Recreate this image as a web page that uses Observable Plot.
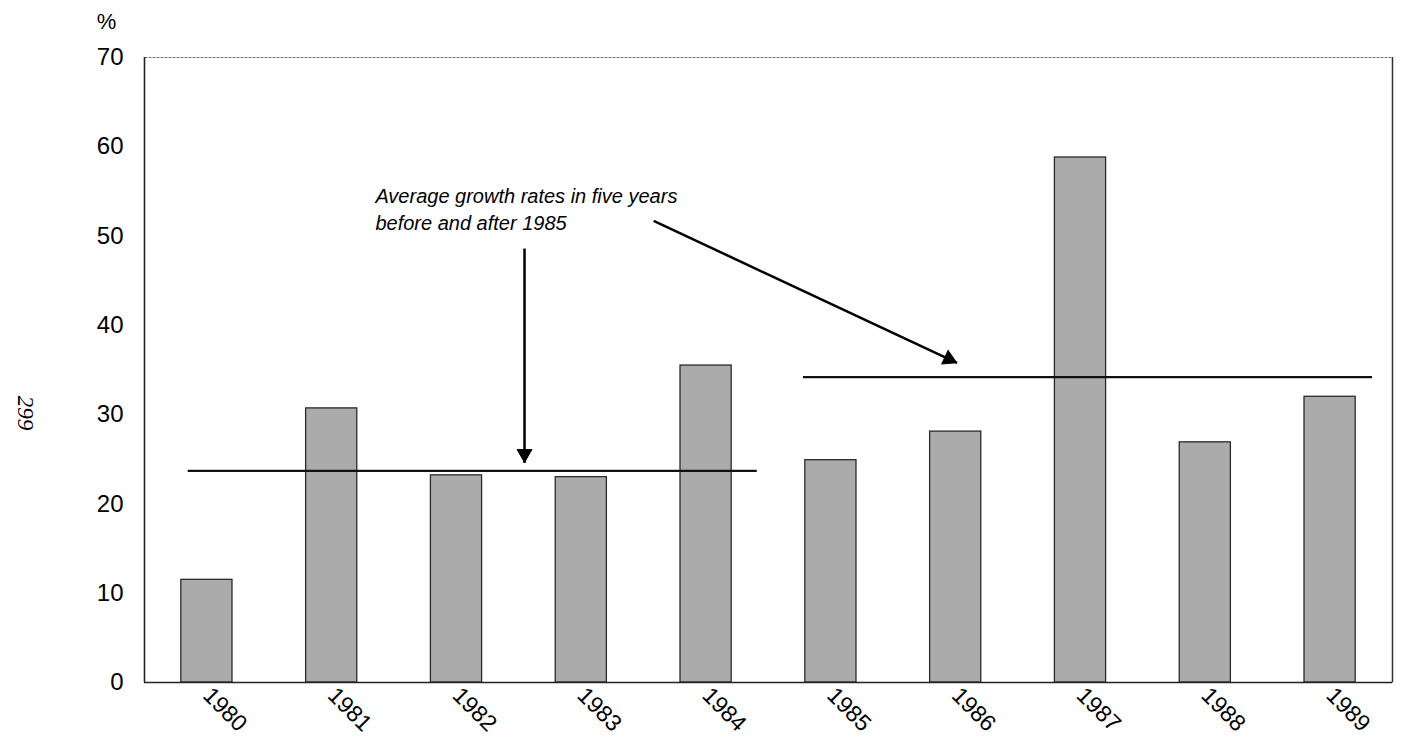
<!DOCTYPE html>
<html>
<head>
<meta charset="utf-8">
<script src="https://cdn.jsdelivr.net/npm/d3@7"></script>
<script src="https://cdn.jsdelivr.net/npm/@observablehq/plot@0.6"></script>
<style>
  html, body { margin: 0; padding: 0; background: #fff; }
  #chart { width: 1402px; height: 746px; }
  svg { font-family: "Liberation Sans", Arial, sans-serif; }
</style>
</head>
<body>
<div id="chart"></div>
<script>
// ---- data ----
const years = [1980, 1981, 1982, 1983, 1984, 1985, 1986, 1987, 1988, 1989];
const growth = [11.5, 30.7, 23.2, 23.0, 35.5, 24.9, 28.1, 58.8, 26.9, 32.0];
const yTicks = [0, 10, 20, 30, 40, 50, 60, 70];

// average-growth segments (period start/end on the year axis, level in %)
const avgStart = [1979.85, 1984.78];
const avgEnd = [1984.41, 1989.34];
const avgLevel = [23.7, 34.2];

// annotation
const noteText = ["Average growth rates in five years\nbefore and after 1985"];
const noteX = [1981.35];
const noteY = [55.8];
const arrowX1 = [1982.545, 1983.58];
const arrowY1 = [48.6, 51.7];
const arrowX2 = [1982.545, 1986.01];
const arrowY2 = [24.6, 35.8];
const pageNumber = ["299"];

const bars = years.map((y, i) => ({year: y, value: growth[i]}));
const avgs = avgLevel.map((v, i) => ({x1: avgStart[i], x2: avgEnd[i], y: v}));
const arrows = arrowX1.map((x, i) => ({x1: x, y1: arrowY1[i], x2: arrowX2[i], y2: arrowY2[i]}));
const notes = noteText.map((t, i) => ({text: t, x: noteX[i], y: noteY[i]}));

const halfBar = 0.205;
const headBack = 9; // px from tip to triangle centroid

const chart = Plot.plot({
  width: 1402,
  height: 746,
  marginLeft: 144,
  marginRight: 10,
  marginTop: 57,
  marginBottom: 64,
  style: {fontFamily: "'Liberation Sans', Arial, sans-serif", fontSize: "24px", color: "#000", background: "#fff"},
  x: {type: "linear", domain: [1979.5, 1989.5], axis: null},
  y: {domain: [0, 70], axis: null},
  marks: [
    Plot.frame({stroke: "#777", strokeWidth: 1, strokeDasharray: "3,1"}),
    Plot.ruleX([1989.5], {stroke: "#333", strokeWidth: 1.5}),
    Plot.rectY(bars, {
      x1: d => d.year - halfBar,
      x2: d => d.year + halfBar,
      y: "value",
      fill: "#ababab",
      stroke: "#2a2a2a",
      strokeWidth: 1.3
    }),
    Plot.ruleX([1979.5], {stroke: "#222", strokeWidth: 1.6}),
    Plot.ruleY([0], {stroke: "#222", strokeWidth: 1.6}),
    Plot.ruleY(avgs, {x1: "x1", x2: "x2", y: "y", stroke: "#111", strokeWidth: 2.2}),
    // arrow shafts
    Plot.link(arrows, {
      x1: "x1", y1: "y1", x2: "x2", y2: "y2",
      stroke: "#000", strokeWidth: 2.5
    }),
    // filled arrowheads
    Plot.dot(arrows, {
      x: "x2", y: "y2",
      symbol: "triangle", r: 5.5, fill: "#000", stroke: "#000", strokeWidth: 1,
      render: (index, scales, values, dims, ctx, next) => {
        const g = next(index, scales, values, dims, ctx);
        const paths = g.querySelectorAll("path");
        index.forEach((i, k) => {
          const x1 = scales.x(arrows[i].x1), y1 = scales.y(arrows[i].y1);
          const x2 = scales.x(arrows[i].x2), y2 = scales.y(arrows[i].y2);
          const a = Math.atan2(y2 - y1, x2 - x1);
          const cx = x2 - headBack * Math.cos(a), cy = y2 - headBack * Math.sin(a);
          const deg = a * 180 / Math.PI + 90;
          paths[k].setAttribute("transform", `translate(${cx},${cy}) rotate(${deg})`);
        });
        return g;
      }
    }),
    Plot.text(notes, {
      x: "x", y: "y", text: "text",
      textAnchor: "start", lineAnchor: "top",
      fontStyle: "italic", fontSize: 20, lineHeight: 1.35, fill: "#000"
    }),
    // y axis tick labels
    Plot.axisY(yTicks, {tickSize: 0, tickPadding: 21, fontSize: 24, label: null, tickFormat: d => String(d)}),
    // x axis tick labels
    Plot.axisX(years, {tickSize: 0, tickPadding: 9, tickRotate: 45, fontSize: 23, label: null, tickFormat: d => String(d)}),
    // "%" unit label
    Plot.text(["%"], {frameAnchor: "top-left", textAnchor: "middle", lineAnchor: "middle", dx: -38, dy: -36, fontSize: 22, fill: "#000"}),
    // page number in the margin
    Plot.text(pageNumber, {
      frameAnchor: "left", textAnchor: "middle", lineAnchor: "middle", dx: -119, dy: 43, rotate: 90,
      fontFamily: "'Liberation Serif', 'DejaVu Serif', serif", fontStyle: "italic", fontSize: 23, fill: "#000"
    })
  ]
});
document.getElementById("chart").appendChild(chart);
</script>
</body>
</html>
